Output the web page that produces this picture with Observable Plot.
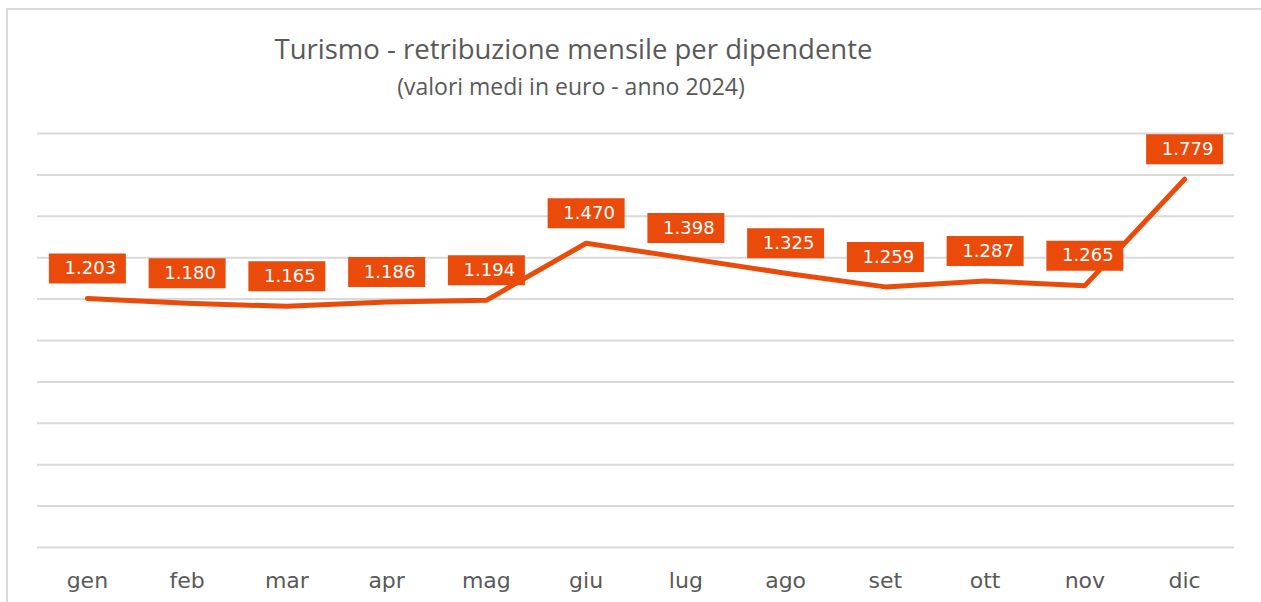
<!DOCTYPE html>
<html><head><meta charset="utf-8">
<script src="https://cdn.jsdelivr.net/npm/d3@7"></script>
<script src="https://cdn.jsdelivr.net/npm/@observablehq/plot@0.6"></script>
<style>
html,body{margin:0;padding:0;background:#fff;overflow:hidden;}
#wrap{position:relative;width:1261px;height:602px;overflow:hidden;}
#frame{position:absolute;left:6px;top:8px;width:1300px;height:700px;border-top:2px solid #d9d9d9;border-left:2px solid #d9d9d9;box-sizing:border-box;pointer-events:none;}
#head{position:relative;height:110px;}
#title{position:absolute;left:0;width:1147px;text-align:center;top:29px;font-family:"Open Sans";font-size:27.5px;line-height:40px;color:#595959;white-space:nowrap;}
#subtitle{position:absolute;left:0;width:1142px;text-align:center;top:71px;font-family:"Open Sans";font-size:23px;line-height:30px;color:#595959;white-space:nowrap;}
#chart svg{display:block;}
</style>
</head><body>
<div id="wrap">
  <div id="frame"></div>
  <div id="head">
    <div id="title">Turismo - retribuzione mensile per dipendente</div>
    <div id="subtitle">(valori medi in euro - anno 2024)</div>
  </div>
  <div id="chart"></div>
</div>
<script>
const months = ["gen","feb","mar","apr","mag","giu","lug","ago","set","ott","nov","dic"];
const values = [1203,1180,1165,1186,1194,1470,1398,1325,1259,1287,1265,1779];
const yTicks = [0,200,400,600,800,1000,1200,1400,1600,1800,2000];

const orange = "#EA4B0B";
const data = months.map((m, i) => ({month: m, value: values[i]}));
const fmt = d3.formatLocale({thousands: ".", decimal: ",", grouping: [3], currency: ["", "€"]}).format(",");

const boxSymbol = {
  draw(ctx) {
    ctx.moveTo(-38.5, -15);
    ctx.lineTo(38.5, -15);
    ctx.lineTo(38.5, 15);
    ctx.lineTo(-38.5, 15);
    ctx.closePath();
  }
};

const chart = Plot.plot({
  width: 1261,
  height: 492,
  marginTop: 23,
  marginBottom: 55,
  marginLeft: 37,
  marginRight: 27,
  style: {fontFamily: "DejaVu Sans", fontSize: "22px", color: "#595959", background: "transparent"},
  x: {type: "point", domain: months, padding: 0.5, round: false, label: null},
  y: {domain: [0, 2000], axis: null},
  marks: [
    Plot.gridY(yTicks, {stroke: "#d9d9d9", strokeOpacity: 1, strokeWidth: 2}),
    Plot.axisX({tickSize: 0, tickPadding: 25, label: null}),
    Plot.lineY(data, {x: "month", y: "value", stroke: orange, strokeWidth: 5, strokeLinecap: "round", strokeLinejoin: "round"}),
    Plot.dot(data, {x: "month", y: "value", symbol: boxSymbol, fill: orange, stroke: "none", dy: -30}),
    Plot.text(data, {x: "month", y: "value", text: d => fmt(d.value), dy: -30, dx: 3, fill: "white", fontSize: 18, fontFamily: "DejaVu Sans"})
  ]
});
document.getElementById("chart").appendChild(chart);
</script>
</body></html>
